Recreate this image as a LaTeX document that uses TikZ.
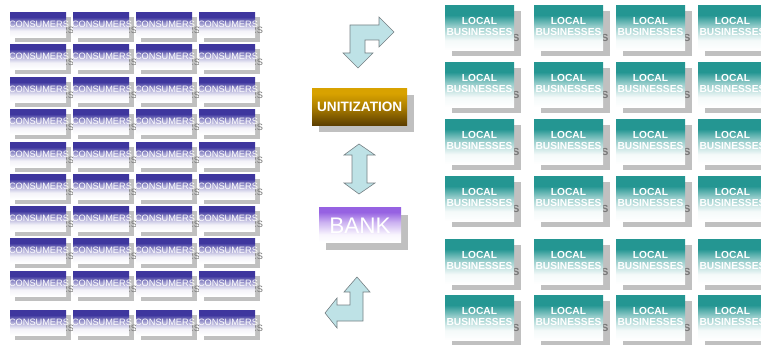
\documentclass[tikz,border=0pt]{standalone}
\usepackage{fontspec}
\setmainfont{Liberation Sans}
\definecolor{cpurple}{RGB}{62,54,158}
\definecolor{lteal}{RGB}{36,150,146}
\definecolor{bpurple}{RGB}{150,98,226}
\definecolor{ugold}{RGB}{216,162,0}
\definecolor{ubrown}{RGB}{92,62,0}
\definecolor{shadowgray}{RGB}{192,192,192}
\definecolor{ghostgray}{RGB}{120,120,120}
\definecolor{arrowfill}{RGB}{190,226,230}
\definecolor{arrowedge}{RGB}{118,128,132}
\pgfdeclareverticalshading{consshade}{100bp}{color(0bp)=(white); color(25bp)=(white); color(38bp)=(white!94!cpurple); color(52bp)=(cpurple!45); color(65bp)=(cpurple); color(100bp)=(cpurple)}
\pgfdeclareverticalshading{tealshade}{100bp}{color(0bp)=(white); color(25bp)=(white); color(36bp)=(white!95!lteal); color(52bp)=(lteal!50); color(64bp)=(lteal); color(100bp)=(lteal)}
\pgfdeclareverticalshading{bankshade}{100bp}{color(0bp)=(white); color(25bp)=(white); color(36bp)=(white!94!bpurple); color(54bp)=(bpurple!50); color(68bp)=(bpurple); color(100bp)=(bpurple)}
\pgfdeclareverticalshading{unitshade}{100bp}{color(0bp)=(ubrown); color(25bp)=(ubrown); color(50bp)=(ugold!65!ubrown); color(68bp)=(ugold); color(100bp)=(ugold)}
\begin{document}
\begin{tikzpicture}[x=1pt,y=-1pt,
  shadowrect/.style={fill=shadowgray,draw=none},
  consbox/.style={shading=consshade,draw=none,minimum width=56pt,minimum height=25pt,inner sep=0pt,anchor=north west},
  conslabel/.style={text=white,font=\fontsize{9.2}{10}\selectfont,inner sep=0pt},
  consghost/.style={conslabel,text=ghostgray},
  bizbox/.style={shading=tealshade,draw=none,minimum width=69pt,minimum height=45pt,inner sep=0pt,anchor=north west},
  bizlabel/.style={text=white,font=\fontsize{10.2}{11}\bfseries,align=center,inner sep=0pt},
  bizghost/.style={bizlabel,text=ghostgray},
  blockarrow/.style={fill=arrowfill,draw=arrowedge,line width=0.6pt,line join=miter}
]
\useasboundingbox (0,0) rectangle (761,345);
\clip (0,0) rectangle (761,345);

% consumers
\foreach \cx [count=\ci] in {10,73,136,199} {
  \foreach \cy [count=\ri] in {12,44,77,109,142,174,206,238,271,310} {
    \fill[shadowrect] (\cx+5,\cy+5) rectangle ++(56,25);
    \node[consghost] (cg-\ri-\ci) at (\cx+29+5,\cy+12.5+6) {CONSUMERS};
    \node[consbox] (c-\ri-\ci) at (\cx,\cy) {};
    \node[conslabel] (cl-\ri-\ci) at (\cx+29,\cy+12.5) {CONSUMERS};
  }
}

% local businesses
\foreach \bx [count=\ci] in {445,534,616,698} {
  \foreach \by [count=\ri] in {5,62,119,176,239,295} {
    \fill[shadowrect] (\bx+7,\by+6) rectangle ++(69,45);
    \node[bizghost] (bg-\ri-\ci) at (\bx+34.5+7,\by+21.5+6) {LOCAL\\BUSINESSES};
    \node[bizbox] (b-\ri-\ci) at (\bx,\by) {};
    \node[bizlabel] (bl-\ri-\ci) at (\bx+34.5,\by+21.5) {LOCAL\\BUSINESSES};
  }
}

% unitization
\fill[shadowrect] (319,95) rectangle ++(95,37);
\node[shading=unitshade,draw=none,minimum width=95pt,minimum height=37pt,inner sep=0pt,anchor=north west] (unit) at (312,88) {};
\node[text=white,font=\fontsize{13.6}{14}\bfseries,inner sep=0pt] (unitlabel) at (unit.center) {UNITIZATION};

% bank
\fill[shadowrect] (326,215) rectangle ++(82,35);
\node[shading=bankshade,draw=none,minimum width=82pt,minimum height=35pt,inner sep=0pt,anchor=north west] (bank) at (319,207) {};
\node[text=white,font=\fontsize{22.5}{24}\selectfont,inner sep=0pt] (banklabel) at (360,225.5) {BANK};

% block arrows
\filldraw[blockarrow] (358,68) -- (373,53) -- (365,53) -- (365,40) -- (379,40) -- (379,47) -- (394,32) -- (379,17) -- (379,25) -- (350,25) -- (350,53) -- (343,53) -- cycle;
\filldraw[blockarrow] (359,144) -- (375,155) -- (367,155) -- (367,183) -- (375,183) -- (359,194) -- (344,183) -- (352,183) -- (352,155) -- (344,155) -- cycle;
\filldraw[blockarrow] (357,277) -- (370,292) -- (363,292) -- (363,321) -- (337,321) -- (337,328) -- (325,313) -- (337,298) -- (337,305) -- (350,305) -- (350,292) -- (344,292) -- cycle;
\end{tikzpicture}
\end{document}
